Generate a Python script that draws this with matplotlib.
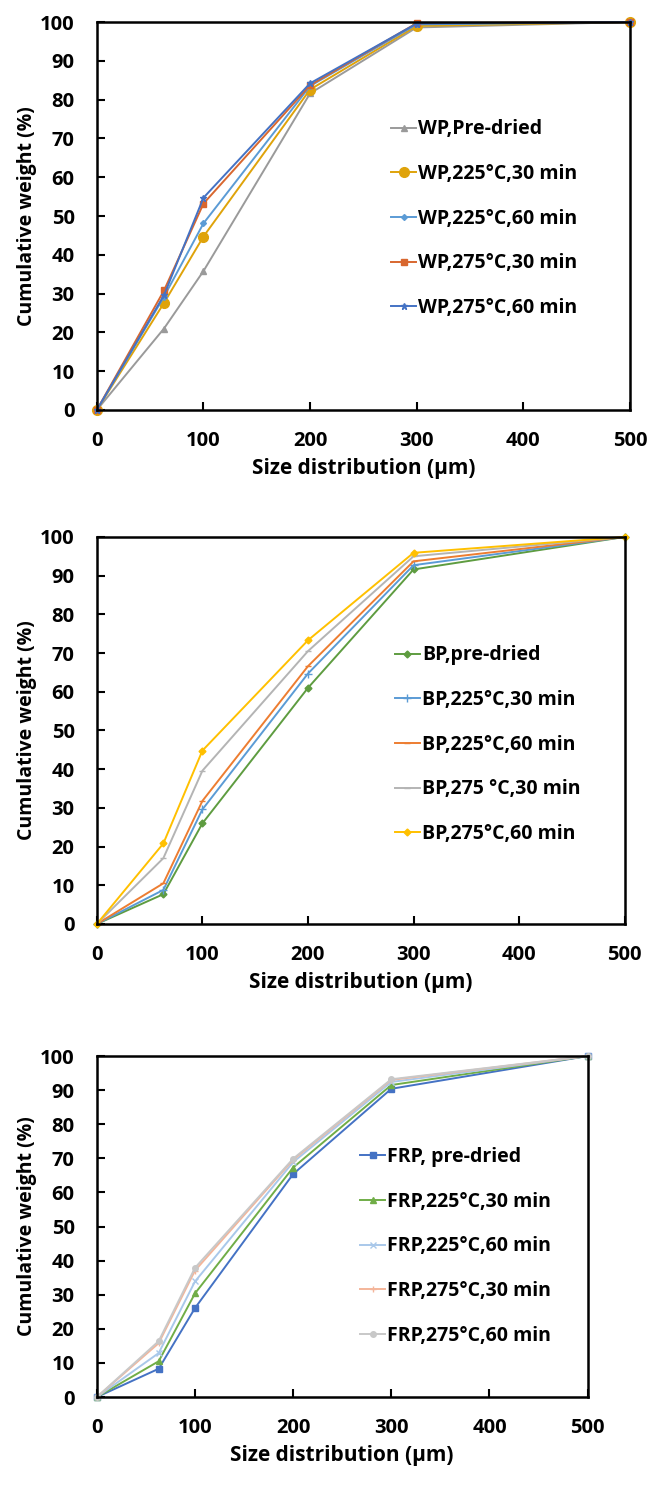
import matplotlib
matplotlib.use("Agg")
from matplotlib import pyplot as plt

plt.rcParams['font.family'] = ['Open Sans', 'DejaVu Sans']
plt.rcParams['font.weight'] = 'bold'

sizes = [0, 63, 100, 200, 300, 500]

# WP
wp_labels = ["WP,Pre-dried", "WP,225°C,30 min", "WP,225°C,60 min",
             "WP,275°C,30 min", "WP,275°C,60 min"]
wp_pre = [0, 21.0, 35.8, 81.6, 98.6, 100]
wp_225_30 = [0, 27.6, 44.7, 82.6, 99.0, 100]
wp_225_60 = [0, 29.2, 48.1, 83.5, 99.4, 100]
wp_275_30 = [0, 30.8, 53.2, 83.7, 99.7, 100]
wp_275_60 = [0, 29.6, 54.7, 84.2, 99.6, 100]

# BP
bp_labels = ["BP,pre-dried", "BP,225°C,30 min", "BP,225°C,60 min",
             "BP,275 °C,30 min", "BP,275°C,60 min"]
bp_pre = [0, 7.7, 26.0, 61.0, 91.6, 100]
bp_225_30 = [0, 8.8, 29.6, 64.7, 92.7, 100]
bp_225_60 = [0, 10.5, 31.8, 66.6, 93.7, 100]
bp_275_30 = [0, 17.0, 39.6, 70.5, 95.0, 100]
bp_275_60 = [0, 20.8, 44.8, 73.3, 95.9, 100]

# FRP
frp_labels = ["FRP, pre-dried", "FRP,225°C,30 min", "FRP,225°C,60 min",
              "FRP,275°C,30 min", "FRP,275°C,60 min"]
frp_pre = [0, 8.3, 26.1, 65.4, 90.4, 100]
frp_225_30 = [0, 10.5, 30.4, 67.3, 91.5, 100]
frp_225_60 = [0, 12.9, 33.9, 68.9, 92.4, 100]
frp_275_30 = [0, 15.8, 37.1, 69.6, 93.0, 100]
frp_275_60 = [0, 16.4, 37.9, 69.9, 93.2, 100]

panels = [
    dict(pos=[0.149, 0.7265, 0.820, 0.2588], labels=wp_labels,
         data=[wp_pre, wp_225_30, wp_225_60, wp_275_30, wp_275_60],
         colors=["#9A9A9A", "#DFA30A", "#5B9BD5", "#D8672F", "#4472C4"],
         markers=[("^", 4), ("o", 7), ("D", 3), ("s", 4), ("*", 5)],
         leg=(0.552, 0.749)),
    dict(pos=[0.149, 0.3836, 0.812, 0.2582], labels=bp_labels,
         data=[bp_pre, bp_225_30, bp_225_60, bp_275_30, bp_275_60],
         colors=["#5E9C40", "#5B9BD5", "#ED7D31", "#B4B4B4", "#FFC000"],
         markers=[("D", 3.5), ("+", 6), ("_", 5), ("_", 5), ("D", 3.5)],
         leg=(0.564, 0.720)),
    dict(pos=[0.149, 0.068, 0.755, 0.2275], labels=frp_labels,
         data=[frp_pre, frp_225_30, frp_225_60, frp_275_30, frp_275_60],
         colors=["#4472C4", "#70AD47", "#A9C8EA", "#F4B59A", "#C8C8C8"],
         markers=[("s", 4), ("^", 4), ("x", 4), ("+", 5), ("o", 4)],
         leg=(0.536, 0.733)),
]

fig = plt.figure(figsize=(6.5, 14.99), dpi=100)

for p in panels:
    ax = fig.add_axes(p["pos"])
    for vals, lab, c, (m, ms) in zip(p["data"], p["labels"], p["colors"], p["markers"]):
        ax.plot(sizes, vals, color=c, marker=m, markersize=ms, linewidth=1.4,
                label=lab, clip_on=False)
    ax.set_xlim(0, 500)
    ax.set_ylim(0, 100)
    ax.set_xticks([0, 100, 200, 300, 400, 500])
    ax.set_yticks(range(0, 101, 10))
    ax.tick_params(direction="in", length=6, width=1.5, labelsize=14.5)
    ax.tick_params(axis="x", pad=15)
    ax.tick_params(axis="y", pad=16)
    for s in ax.spines.values():
        s.set_linewidth(1.8)
    ax.set_xlabel("Size distribution (µm)", fontsize=15, fontweight="bold", labelpad=5)
    ax.set_ylabel("Cumulative weight (%)", fontsize=14, fontweight="bold", labelpad=2)
    ax.legend(loc="upper left", bbox_to_anchor=p["leg"], frameon=False,
              fontsize=14, handlelength=1.3, handletextpad=0.1,
              labelspacing=1.27, borderpad=0, borderaxespad=0)

plt.savefig("out.png", dpi=100)
